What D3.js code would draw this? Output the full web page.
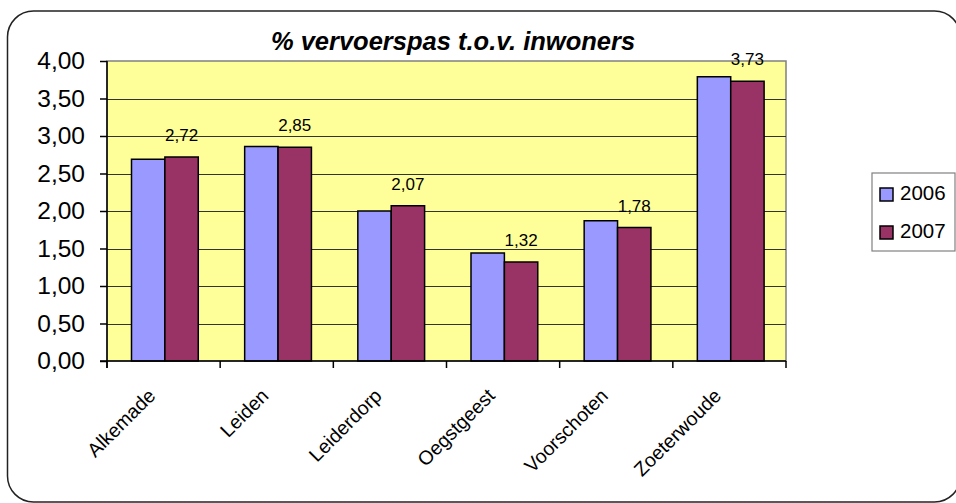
<!DOCTYPE html>
<html><head><meta charset="utf-8">
<script src="https://cdn.jsdelivr.net/npm/d3@7"></script>
<style>
body{margin:0;background:#fff;}
svg{display:block;font-family:"Liberation Sans",Arial,sans-serif;}
</style></head>
<body>
<svg id="c" width="956" height="503"></svg>
<script>
const categories = ["Alkemade","Leiden","Leiderdorp","Oegstgeest","Voorschoten","Zoeterwoude"];
const seriesNames = ["2006","2007"];
const values2006 = [2.69, 2.86, 2.00, 1.44, 1.87, 3.79];
const values2007 = [2.72, 2.85, 2.07, 1.32, 1.78, 3.73];
const yTicks = [0,0.5,1,1.5,2,2.5,3,3.5,4];
const colors = ["#9999FF","#993366"];
const title = "% vervoerspas t.o.v. inwoners";

const svg = d3.select("#c");
const fmt = v => d3.format(".2f")(v).replace(".", ",");

// outer rounded border
svg.append("rect").attr("x",7.5).attr("y",11).attr("width",953).attr("height",491)
  .attr("rx",26).attr("ry",26).attr("fill","#fff").attr("stroke","#222").attr("stroke-width",1.5);

const L=107, R=786, T=61, B=361;
const x = d3.scaleBand().domain(categories).range([L,R]).padding(0);
const y = d3.scaleLinear().domain([0,4]).range([B,T]);
const bw = x.bandwidth();
const barW = bw*0.295, off = bw*0.2165;

// plot area
svg.append("rect").attr("x",L).attr("y",T).attr("width",R-L).attr("height",B-T)
  .attr("fill","#FFFF99").attr("stroke","#808080").attr("stroke-width",1.5);

// gridlines
svg.append("g").selectAll("line").data(yTicks.filter(d=>d>0&&d<4)).join("line")
  .attr("x1",L).attr("x2",R).attr("y1",d=>Math.round(y(d))+0.5).attr("y2",d=>Math.round(y(d))+0.5)
  .attr("stroke","#333").attr("stroke-width",1);

// bars
const data = categories.map((c,i)=>({c, v:[values2006[i], values2007[i]]}));
const g = svg.append("g");
data.forEach(d=>{
  d.v.forEach((v,s)=>{
    g.append("rect").attr("x",x(d.c)+off+s*barW).attr("y",y(v))
      .attr("width",barW).attr("height",y(0)-y(v))
      .attr("fill",colors[s]).attr("stroke","#000").attr("stroke-width",1.5);
  });
  const v7 = d.v[1];
  g.append("text").attr("x",x(d.c)+off+1.5*barW).attr("y",y(v7)-16)
    .attr("text-anchor","middle").attr("font-size",17).attr("fill","#000").text(fmt(v7));
});

// y axis
const ya = d3.axisLeft(y).tickValues(yTicks).tickSize(7).tickPadding(15).tickFormat(fmt);
const yg = svg.append("g").attr("transform",`translate(${L},0)`).call(ya);
yg.select(".domain").attr("stroke","#000").attr("stroke-width",1.5).attr("d",`M0,${B+7}V${T}`);
yg.selectAll(".tick line").attr("stroke","#000").attr("stroke-width",1.5);
yg.selectAll(".tick text").attr("font-size",24.5).attr("fill","#000").attr("font-family","Liberation Sans, Arial, sans-serif");

// x axis
svg.append("line").attr("x1",L-7).attr("x2",R).attr("y1",B).attr("y2",B).attr("stroke","#000").attr("stroke-width",1.5);
const bounds = categories.map(c=>x(c)).concat([R]);
svg.append("g").selectAll("line").data(bounds).join("line")
  .attr("x1",d=>d).attr("x2",d=>d).attr("y1",B).attr("y2",B+7).attr("stroke","#000").attr("stroke-width",1.5);
svg.append("g").selectAll("text").data(categories).join("text")
  .attr("transform",d=>`translate(${x(d)+bw/2-7},${B+36}) rotate(-45)`)
  .attr("text-anchor","end").attr("font-size",19.5).attr("fill","#000").text(d=>d);

// title
svg.append("text").attr("x",453).attr("y",50).attr("text-anchor","middle")
  .attr("font-size",25.5).attr("font-weight","bold").attr("font-style","italic").text(title);

// legend
svg.append("rect").attr("x",872).attr("y",173).attr("width",83).attr("height",78)
  .attr("fill","#fff").attr("stroke","#808080").attr("stroke-width",1.2);
seriesNames.forEach((n,i)=>{
  const yy = 188 + i*38;
  svg.append("rect").attr("x",880).attr("y",yy).attr("width",13).attr("height",13)
    .attr("fill",colors[i]).attr("stroke","#000").attr("stroke-width",1.5);
  svg.append("text").attr("x",900).attr("y",yy+11.5).attr("font-size",20.5).attr("fill","#000").text(n);
});
</script>
</body></html>
